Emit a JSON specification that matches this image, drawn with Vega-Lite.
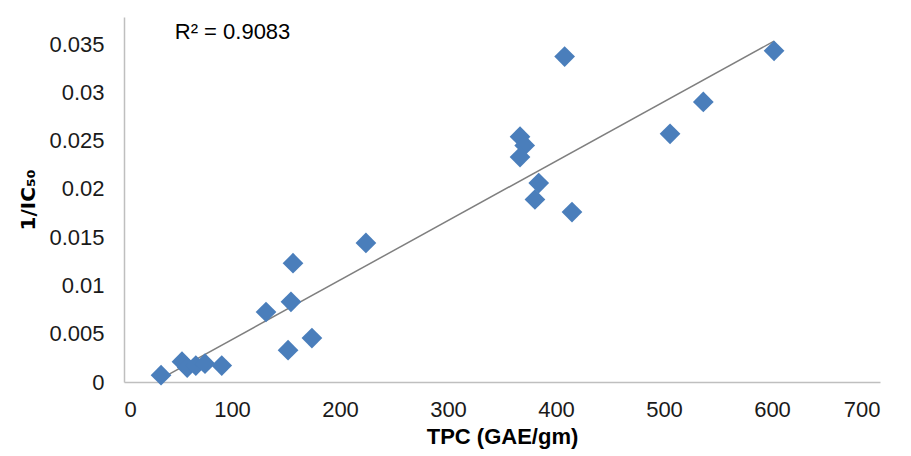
{
  "$schema": "https://vega.github.io/schema/vega-lite/v6.json",
  "width": 756,
  "height": 365,
  "autosize": "none",
  "padding": {"left": 124, "top": 17, "right": 31, "bottom": 74},
  "background": "white",
  "config": {
    "view": {"stroke": null},
    "font": "Liberation Sans",
    "axis": {
      "grid": false,
      "ticks": false,
      "domainColor": "#bfbfbf",
      "domainWidth": 1.5,
      "labelFont": "Liberation Sans",
      "labelFontSize": 22,
      "labelColor": "#1a1a1a",
      "titleFont": "Liberation Sans",
      "titleFontSize": 22,
      "titleFontWeight": "bold",
      "titleColor": "#000000"
    }
  },
  "data": {
    "values": [
      {"tpc": 34.3, "inv": 0.0007},
      {"tpc": 53.7, "inv": 0.0021},
      {"tpc": 58.5, "inv": 0.0015},
      {"tpc": 66.5, "inv": 0.0017},
      {"tpc": 75.0, "inv": 0.0019},
      {"tpc": 90.5, "inv": 0.0017},
      {"tpc": 151.9, "inv": 0.0033},
      {"tpc": 174.0, "inv": 0.00455},
      {"tpc": 131.5, "inv": 0.00725},
      {"tpc": 154.6, "inv": 0.0083},
      {"tpc": 156.5, "inv": 0.0123},
      {"tpc": 224.0, "inv": 0.0144},
      {"tpc": 408.0, "inv": 0.0337},
      {"tpc": 366.7, "inv": 0.0254},
      {"tpc": 371.0, "inv": 0.0245},
      {"tpc": 366.7, "inv": 0.0233},
      {"tpc": 384.0, "inv": 0.0206},
      {"tpc": 380.5, "inv": 0.0189},
      {"tpc": 414.8, "inv": 0.0176},
      {"tpc": 505.6, "inv": 0.0257},
      {"tpc": 536.4, "inv": 0.029},
      {"tpc": 601.9, "inv": 0.0343}
    ]
  },
  "layer": [
    {
      "mark": {"type": "line", "color": "#7f7f7f", "strokeWidth": 1.5},
      "transform": [{"regression": "inv", "on": "tpc"}],
      "encoding": {
        "x": {"field": "tpc", "type": "quantitative"},
        "y": {"field": "inv", "type": "quantitative"}
      }
    },
    {
      "mark": {"type": "point", "shape": "diamond", "filled": true, "size": 430, "color": "#4a7ebb", "opacity": 1},
      "encoding": {
        "x": {
          "field": "tpc",
          "type": "quantitative",
          "scale": {"domain": [0, 700], "nice": false},
          "axis": {"values": [0, 100, 200, 300, 400, 500, 600, 700], "title": "TPC (GAE/gm)", "titlePadding": 6, "labelPadding": 17}
        },
        "y": {
          "field": "inv",
          "type": "quantitative",
          "scale": {"domain": [0, 0.0378], "nice": false},
          "axis": {"values": [0, 0.005, 0.01, 0.015, 0.02, 0.025, 0.03, 0.035], "format": "~g", "title": "1/IC₅₀", "titleFont": "DejaVu Sans", "titleFontSize": 20, "titlePadding": 10, "labelPadding": 20}
        }
      }
    },
    {
      "data": {"values": [{"tx": 47, "ty": 0.0362, "label": "R² = 0.9083"}]},
      "mark": {"type": "text", "align": "left", "baseline": "middle", "fontSize": 22, "font": "Liberation Sans", "color": "#000000"},
      "encoding": {
        "x": {"field": "tx", "type": "quantitative"},
        "y": {"field": "ty", "type": "quantitative"},
        "text": {"field": "label"}
      }
    }
  ]
}
